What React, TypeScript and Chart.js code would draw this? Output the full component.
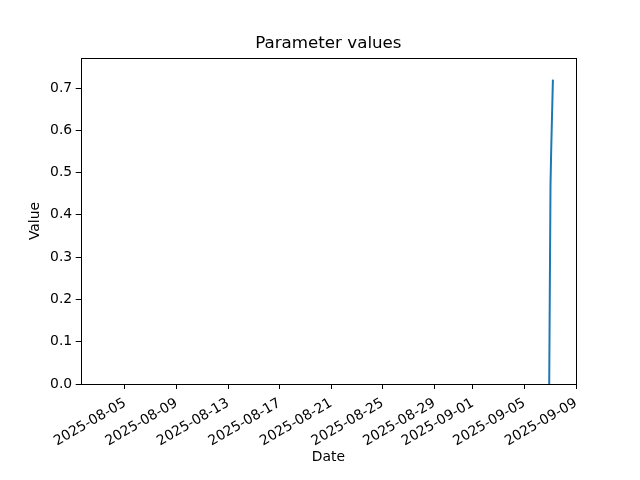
import React, { useEffect, useRef } from "react";
import { Chart, registerables } from "chart.js";

Chart.register(...registerables);

const pointTimes = ["2025-09-06T22:05:00Z", "2025-09-07T00:30:00Z", "2025-09-07T01:55:00Z", "2025-09-07T05:00:00Z"];
const pointValues = [0.0, 0.47, 0.56, 0.72];
const xTickDates = ["2025-08-05", "2025-08-09", "2025-08-13", "2025-08-17", "2025-08-21", "2025-08-25", "2025-08-29", "2025-09-01", "2025-09-05", "2025-09-09"];
const yTickValues = [0.0, 0.1, 0.2, 0.3, 0.4, 0.5, 0.6, 0.7];
const xMinDate = "2025-08-01T13:30:00Z";
const xMaxDate = "2025-09-09T00:00:00Z";
const yMin = 0;
const yMax = 0.771;

const toMs = (s: string) => new Date(s.length === 10 ? s + "T00:00:00Z" : s).getTime();
const fmt = (ms: number) => new Date(ms).toISOString().slice(0, 10);

const FONT = "'DejaVu Sans', sans-serif";

const boxPlugin = {
  id: "boxPlugin",
  afterDraw(chart: any) {
    const { ctx, chartArea } = chart;
    ctx.save();
    ctx.strokeStyle = "#000";
    ctx.lineWidth = 1;
    const l = Math.round(chartArea.left) + 0.5;
    const t = Math.round(chartArea.top) + 0.5;
    const r = Math.round(chartArea.right) + 0.5;
    const b = Math.round(chartArea.bottom) + 0.5;
    ctx.strokeRect(l, t, r - l, b - t);
    ctx.restore();
  },
};

export default function App() {
  const ref = useRef<HTMLCanvasElement | null>(null);
  useEffect(() => {
    document.body.style.margin = "0";
    const data = pointTimes.map((t, i) => ({ x: toMs(t), y: pointValues[i] }));
    const chart = new Chart(ref.current as HTMLCanvasElement, {
      type: "line",
      data: {
        datasets: [
          {
            data,
            borderColor: "#1f77b4",
            borderWidth: 2,
            pointRadius: 0,
            fill: false,
            tension: 0,
          },
        ],
      },
      options: {
        animation: false,
        responsive: false,
        maintainAspectRatio: false,
        layout: { padding: { left: 27, right: 64, top: 0, bottom: 14 } },
        plugins: {
          legend: { display: false },
          tooltip: { enabled: false },
          title: {
            display: true,
            fullSize: false,
            text: "Parameter values",
            color: "#000",
            font: { family: FONT, size: 16.7, weight: "normal" },
            padding: { top: 34, bottom: 4 },
          },
        },
        scales: {
          x: {
            type: "linear",
            min: toMs(xMinDate),
            max: toMs(xMaxDate),
            afterBuildTicks: (scale: any) => {
              scale.ticks = xTickDates.map((d) => ({ value: toMs(d) }));
            },
            afterFit: (scale: any) => {
              scale.height = 480 - 14 - 384;
            },
            ticks: {
              color: "#000",
              font: { family: FONT, size: 13.9 },
              minRotation: 30,
              maxRotation: 30,
              autoSkip: false,
              padding: 6,
              callback: (v: any) => fmt(Number(v)),
            },
            grid: { drawOnChartArea: false, drawTicks: true, tickLength: 5, color: "#000" },
            border: { display: false },
            title: {
              display: true,
              text: "Date",
              color: "#000",
              font: { family: FONT, size: 13.9 },
              padding: 0,
            },
          },
          y: {
            type: "linear",
            min: yMin,
            max: yMax,
            afterBuildTicks: (scale: any) => {
              scale.ticks = yTickValues.map((v) => ({ value: v }));
            },
            afterFit: (scale: any) => {
              scale.width = 80.7 - 27;
            },
            ticks: {
              color: "#000",
              font: { family: FONT, size: 13.9 },
              padding: 3.5,
              callback: (v: any) => Number(v).toFixed(1),
            },
            grid: { drawOnChartArea: false, drawTicks: true, tickLength: 5, color: "#000" },
            border: { display: false },
            title: {
              display: true,
              text: "Value",
              color: "#000",
              font: { family: FONT, size: 13.9 },
              padding: 0,
            },
          },
        },
      },
      plugins: [boxPlugin],
    } as any);
    return () => chart.destroy();
  }, []);
  return (
    <div style={{ position: "absolute", left: 0, top: 0, width: 640, height: 480, background: "#fff" }}>
      <canvas ref={ref} width={640} height={480} style={{ width: 640, height: 480 }} />
    </div>
  );
}
